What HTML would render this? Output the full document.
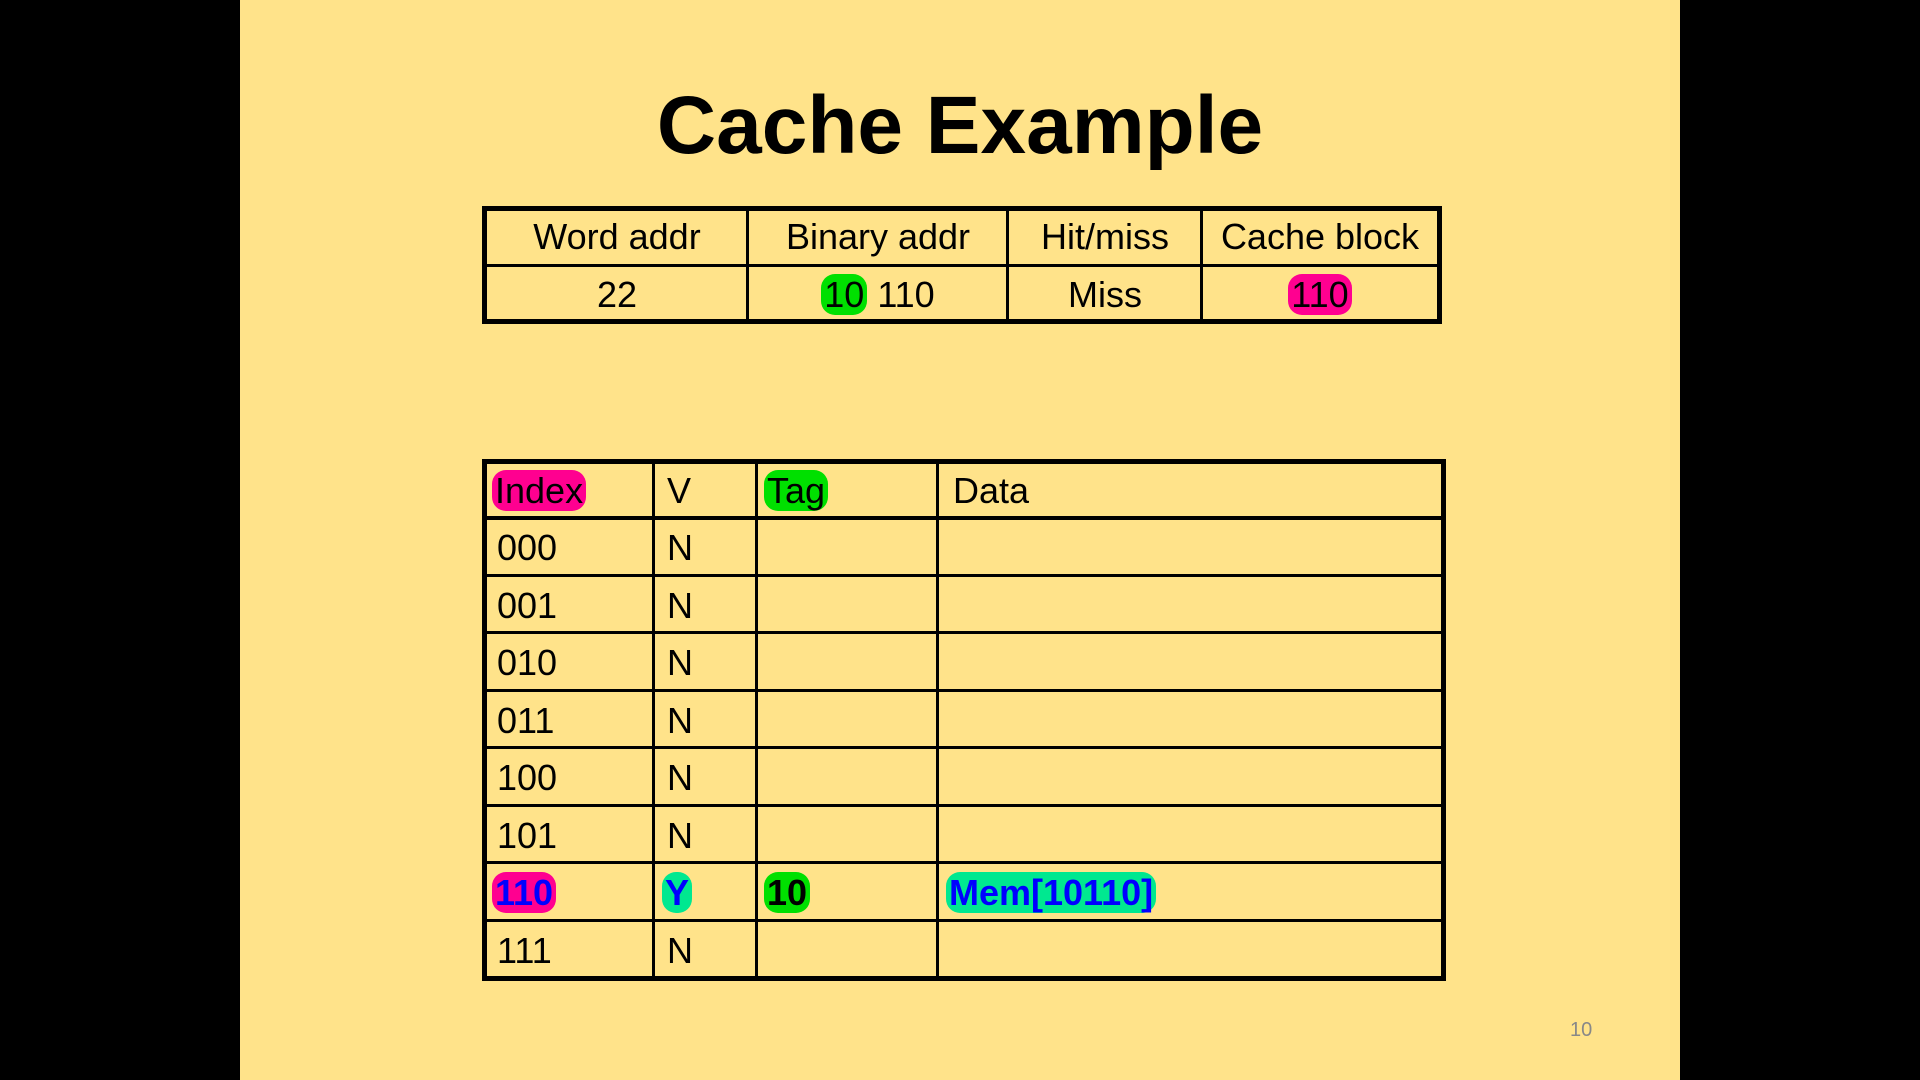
<!DOCTYPE html>
<html><head><meta charset="utf-8"><style>
body{margin:0;width:1920px;height:1080px;background:#000;position:relative;overflow:hidden;font-family:"Liberation Sans Narrow","Liberation Sans",sans-serif;}
.slide{position:absolute;left:240px;top:0;width:1440px;height:1080px;background:#ffe38a;}
.t{position:absolute;}
.h{position:absolute;background:#000;}
.txt{position:absolute;font-size:36px;line-height:40px;color:#000;white-space:nowrap;}
.c{text-align:center;}
.hl{border-radius:14px;padding:0 3px;}
</style></head><body>
<div class="slide"></div>
<div class="txt" style="left:0;width:1920px;top:76px;font-family:'Liberation Sans',sans-serif;font-weight:bold;font-size:82px;line-height:100px;text-align:center;">Cache Example</div>

<!-- top table -->
<div class="t" style="left:482px;top:206px;width:960px;height:118px;border:5px solid #000;box-sizing:border-box;"></div>
<div class="h" style="left:482px;top:264px;width:960px;height:3px"></div>
<div class="h" style="left:746px;top:206px;width:3px;height:118px"></div>
<div class="h" style="left:1006px;top:206px;width:3px;height:118px"></div>
<div class="h" style="left:1200px;top:206px;width:3px;height:118px"></div>
<div class="txt c" style="left:487px;width:260px;top:217px">Word addr</div>
<div class="txt c" style="left:749px;width:258px;top:217px">Binary addr</div>
<div class="txt c" style="left:1009px;width:192px;top:217px">Hit/miss</div>
<div class="txt c" style="left:1203px;width:234px;top:217px">Cache block</div>
<div class="txt c" style="left:487px;width:260px;top:275px">22</div>
<div class="txt c" style="left:749px;width:258px;top:275px"><span class="hl" style="background:#00e000">10</span> 110</div>
<div class="txt c" style="left:1009px;width:192px;top:275px">Miss</div>
<div class="txt c" style="left:1203px;width:234px;top:275px"><span class="hl" style="background:#ff0090">110</span></div>

<!-- bottom table -->
<div class="t" style="left:482px;top:459px;width:964px;height:522px;border:5px solid #000;box-sizing:border-box;"></div>
<div class="h" style="left:482px;top:516px;width:964px;height:4px"></div>
<div class="h" style="left:482px;top:574px;width:964px;height:3px"></div>
<div class="h" style="left:482px;top:631px;width:964px;height:3px"></div>
<div class="h" style="left:482px;top:689px;width:964px;height:3px"></div>
<div class="h" style="left:482px;top:746px;width:964px;height:3px"></div>
<div class="h" style="left:482px;top:804px;width:964px;height:3px"></div>
<div class="h" style="left:482px;top:861px;width:964px;height:3px"></div>
<div class="h" style="left:482px;top:919px;width:964px;height:3px"></div>
<div class="h" style="left:652px;top:459px;width:3px;height:522px"></div>
<div class="h" style="left:755px;top:459px;width:3px;height:522px"></div>
<div class="h" style="left:936px;top:459px;width:3px;height:522px"></div>

<div class="txt" style="left:492px;top:471px"><span class="hl" style="background:#ff0090">Index</span></div>
<div class="txt" style="left:667px;top:471px">V</div>
<div class="txt" style="left:764px;top:471px"><span class="hl" style="background:#00e000">Tag</span></div>
<div class="txt" style="left:953px;top:471px">Data</div>

<div class="txt" style="left:497px;top:528px">000</div><div class="txt" style="left:667px;top:528px">N</div>
<div class="txt" style="left:497px;top:586px">001</div><div class="txt" style="left:667px;top:586px">N</div>
<div class="txt" style="left:497px;top:643px">010</div><div class="txt" style="left:667px;top:643px">N</div>
<div class="txt" style="left:497px;top:701px">011</div><div class="txt" style="left:667px;top:701px">N</div>
<div class="txt" style="left:497px;top:758px">100</div><div class="txt" style="left:667px;top:758px">N</div>
<div class="txt" style="left:497px;top:816px">101</div><div class="txt" style="left:667px;top:816px">N</div>
<div class="txt" style="left:492px;top:873px;font-weight:bold;color:#0000ff"><span class="hl" style="background:#ff0090">110</span></div>
<div class="txt" style="left:662px;top:873px;font-weight:bold;color:#0000ff"><span class="hl" style="background:#00e890">Y</span></div>
<div class="txt" style="left:764px;top:873px;font-weight:bold"><span class="hl" style="background:#00e000">10</span></div>
<div class="txt" style="left:946px;top:873px;font-weight:bold;color:#0000ff"><span class="hl" style="background:#00e890">Mem[10110]</span></div>
<div class="txt" style="left:497px;top:931px">111</div><div class="txt" style="left:667px;top:931px">N</div>

<div class="txt" style="left:1570px;top:1018px;font-size:20px;line-height:24px;color:#888;font-family:'Liberation Sans',sans-serif">10</div>
</body></html>
